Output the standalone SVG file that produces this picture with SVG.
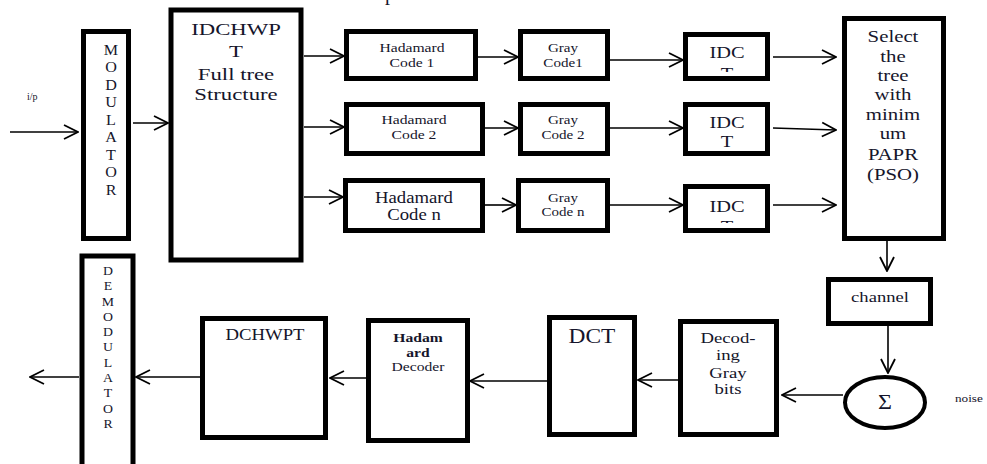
<svg xmlns="http://www.w3.org/2000/svg" width="987" height="464" viewBox="0 0 987 464" font-family="'Liberation Serif', 'DejaVu Serif', serif">
<style>
.box{fill:#fff;stroke:#000;stroke-width:5}
.t{font-family:'Liberation Serif','DejaVu Serif',serif;fill:#15152b;text-anchor:middle}
.s{text-anchor:start}
.b{font-weight:bold}
.w{stroke:#000;stroke-width:1.6;fill:none;marker-end:url(#ah)}
</style>
<defs>
<marker id="ah" markerUnits="userSpaceOnUse" markerWidth="16" markerHeight="18" viewBox="0 0 16 18" refX="15" refY="9" orient="auto">
<path d="M1,2 L15,9 L1,16" fill="none" stroke="#000" stroke-width="1.8"/>
</marker>
<clipPath id="clipIdct1"><rect x="686" y="36" width="80" height="36"/></clipPath>
<clipPath id="clipIdct3"><rect x="686" y="188" width="80" height="35"/></clipPath>
</defs>
<rect width="987" height="464" fill="#fff"/>

<!-- partly cropped caption glyph at the top edge -->
<text class="t" x="390" y="0" font-size="20">p</text>

<!-- connectors -->
<g id="connectors">
<path class="w" d="M10,132 H78"/>
<path class="w" d="M133,123 H168"/>
<path class="w" d="M304,56 H344"/>
<path class="w" d="M304,127 H344"/>
<path class="w" d="M304,197 H343"/>
<path class="w" d="M478,57 H518"/>
<path class="w" d="M485,128 H518"/>
<path class="w" d="M485,205 H516"/>
<path class="w" d="M610,60 H683"/>
<path class="w" d="M610,128 H683"/>
<path class="w" d="M610,205 H683"/>
<path class="w" d="M773,57 H836"/>
<path class="w" d="M773,128 L836,130"/>
<path class="w" d="M773,205 H836"/>
<path class="w" d="M887,241 V271"/>
<path class="w" d="M888,326 V373"/>
<path class="w" d="M843,395 H782"/>
<path class="w" d="M678,380 H638"/>
<path class="w" d="M547,381 H470"/>
<path class="w" d="M366,378 H330"/>
<path class="w" d="M200,377 H136"/>
<path class="w" d="M79,377 H30"/>
</g>

<text class="t s" x="27" y="100" font-size="10">i/p</text>

<g id="modulator">
<rect class="box" x="83.5" y="31.5" width="45" height="207"/>
<text class="t" font-size="14" transform="translate(111,55) scale(1.15,1)">
<tspan x="0">M</tspan><tspan x="0" dy="17.5">O</tspan><tspan x="0" dy="17.5">D</tspan><tspan x="0" dy="17.5">U</tspan><tspan x="0" dy="17.5">L</tspan><tspan x="0" dy="17.5">A</tspan><tspan x="0" dy="17.5">T</tspan><tspan x="0" dy="17.5">O</tspan><tspan x="0" dy="17.5">R</tspan>
</text>
</g>

<g id="idchwpt">
<rect class="box" x="171" y="10" width="130" height="250" stroke-width="6"/>
<text class="t" font-size="17.5" transform="translate(236,35) scale(1.3,1)">
<tspan x="0">IDCHWP</tspan><tspan x="0" dy="22">T</tspan><tspan x="0" dy="23">Full tree</tspan><tspan x="0" dy="20">Structure</tspan>
</text>
</g>

<g id="hadamard1">
<rect class="box" x="346.5" y="31.5" width="129" height="47"/>
<text class="t" font-size="13.5" transform="translate(412,52) scale(1.16,1)"><tspan x="0">Hadamard</tspan><tspan x="0" dy="15">Code 1</tspan></text>
</g>
<g id="gray1">
<rect class="box" x="520.5" y="31.5" width="87" height="47"/>
<text class="t" font-size="13" transform="translate(563,52) scale(1.16,1)"><tspan x="0">Gray</tspan><tspan x="0" dy="15">Code1</tspan></text>
</g>
<g id="hadamard2">
<rect class="box" x="346.5" y="104.5" width="136" height="49"/>
<text class="t" font-size="13.5" transform="translate(414,124) scale(1.16,1)"><tspan x="0">Hadamard</tspan><tspan x="0" dy="15">Code 2</tspan></text>
</g>
<g id="gray2">
<rect class="box" x="520.5" y="104.5" width="87" height="49"/>
<text class="t" font-size="13" transform="translate(563,124) scale(1.16,1)"><tspan x="0">Gray</tspan><tspan x="0" dy="15">Code 2</tspan></text>
</g>
<g id="hadamardN">
<rect class="box" x="345.5" y="180.5" width="137" height="50"/>
<text class="t" font-size="16" transform="translate(414,203) scale(1.17,1)"><tspan x="0">Hadamard</tspan><tspan x="0" dy="17">Code n</tspan></text>
</g>
<g id="grayN">
<rect class="box" x="518.5" y="180.5" width="89" height="50"/>
<text class="t" font-size="12.5" transform="translate(563,202) scale(1.2,1)"><tspan x="0">Gray</tspan><tspan x="0" dy="14">Code n</tspan></text>
</g>

<g id="idct1">
<rect class="box" x="685.5" y="34.5" width="82" height="44"/>
<g clip-path="url(#clipIdct1)">
<text class="t" font-size="17" transform="translate(727,58) scale(1.2,1)"><tspan x="0">IDC</tspan><tspan x="0" dy="21">T</tspan></text>
</g>
</g>
<g id="idct2">
<rect class="box" x="685.5" y="104.5" width="82" height="49"/>
<text class="t" font-size="17" transform="translate(727,128) scale(1.2,1)"><tspan x="0">IDC</tspan><tspan x="0" dy="19">T</tspan></text>
</g>
<g id="idct3">
<rect class="box" x="685.5" y="186.5" width="82" height="44"/>
<g clip-path="url(#clipIdct3)">
<text class="t" font-size="17" transform="translate(727,212) scale(1.2,1)"><tspan x="0">IDC</tspan><tspan x="0" dy="20">T</tspan></text>
</g>
</g>

<g id="select">
<rect class="box" x="844.5" y="18.5" width="99" height="220"/>
<text class="t" font-size="16" transform="translate(893,42) scale(1.3,1)">
<tspan x="0">Select</tspan><tspan x="0" dy="20">the</tspan><tspan x="0" dy="19">tree</tspan><tspan x="0" dy="19">with</tspan><tspan x="0" dy="20">minim</tspan><tspan x="0" dy="19">um</tspan><tspan x="0" dy="21">PAPR</tspan><tspan x="0" dy="20">(PSO)</tspan>
</text>
</g>

<g id="channel">
<rect class="box" x="828.5" y="279.5" width="102" height="44"/>
<text class="t" font-size="15" transform="translate(880,302) scale(1.24,1)">channel</text>
</g>

<g id="sum">
<ellipse cx="885" cy="402.5" rx="40" ry="25.5" fill="#fff" stroke="#000" stroke-width="4"/>
<text class="t" font-size="20" transform="translate(885,409) scale(1.2,1)">Σ</text>
</g>
<text class="t s" font-size="11" transform="translate(955,402) scale(1.2,1)">noise</text>

<g id="decodingGray">
<rect class="box" x="680.5" y="321.5" width="96" height="113"/>
<text class="t" font-size="15" transform="translate(728,343) scale(1.25,1)">
<tspan x="0">Decod-</tspan><tspan x="0" dy="17">ing</tspan><tspan x="0" dy="18">Gray</tspan><tspan x="0" dy="16">bits</tspan>
</text>
</g>

<g id="dct">
<rect class="box" x="549.5" y="317.5" width="85" height="117"/>
<text class="t" font-size="20" transform="translate(592,343) scale(1.17,1)">DCT</text>
</g>

<g id="hadamardDecoder">
<rect class="box" x="368.5" y="320.5" width="99" height="120"/>
<text class="t" font-size="12.5" transform="translate(418,342) scale(1.25,1)">
<tspan x="0" class="b">Hadam</tspan><tspan x="0" dy="15" class="b">ard</tspan><tspan x="0" dy="14">Decoder</tspan>
</text>
</g>

<g id="dchwpt">
<rect class="box" x="202.5" y="318.5" width="123" height="119"/>
<text class="t" font-size="16" transform="translate(265,340) scale(1.17,1)">DCHWPT</text>
</g>

<g id="demodulator">
<rect class="box" x="82" y="256" width="51" height="220" stroke-width="6"/>
<text class="t" font-size="12" transform="translate(108,275) scale(1.15,1)">
<tspan x="0">D</tspan><tspan x="0" dy="15.3">E</tspan><tspan x="0" dy="15.3">M</tspan><tspan x="0" dy="15.3">O</tspan><tspan x="0" dy="15.3">D</tspan><tspan x="0" dy="15.3">U</tspan><tspan x="0" dy="15.3">L</tspan><tspan x="0" dy="15.3">A</tspan><tspan x="0" dy="15.3">T</tspan><tspan x="0" dy="15.3">O</tspan><tspan x="0" dy="15.3">R</tspan>
</text>
</g>
</svg>
